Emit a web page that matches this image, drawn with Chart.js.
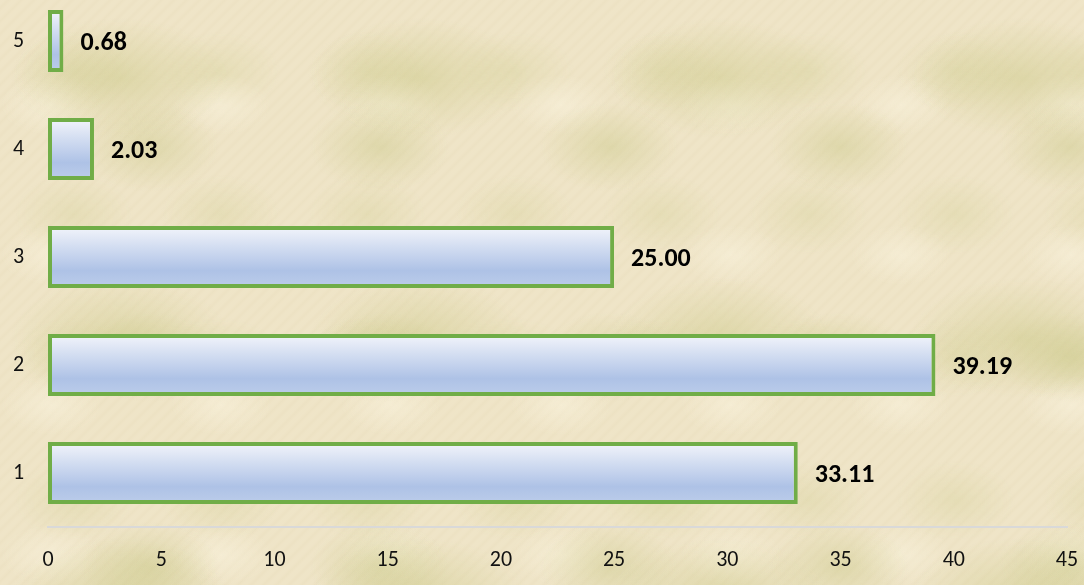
<!DOCTYPE html>
<html>
<head>
<meta charset="utf-8">
<script src="https://cdn.jsdelivr.net/npm/chart.js@4.4.1/dist/chart.umd.min.js"></script>
<style>
  html, body { margin: 0; padding: 0; }
  body {
    width: 1084px; height: 585px; overflow: hidden;
    background-color: #EEE3C5;
    background-image:
      radial-gradient(ellipse 110px 60px at 40% 30%, rgba(200,198,130,0.45), rgba(200,198,130,0) 100%),
      radial-gradient(ellipse 70px 45px at 65% 70%, rgba(195,195,125,0.38), rgba(195,195,125,0) 100%),
      radial-gradient(ellipse 50px 30px at 30% 70%, rgba(250,243,222,0.55), rgba(250,243,222,0) 100%),
      radial-gradient(ellipse 60px 40px at 50% 50%, rgba(205,203,140,0.28), rgba(205,203,140,0) 100%),
      repeating-linear-gradient(135deg, rgba(255,248,228,0.08) 0px, rgba(255,248,228,0.08) 3px, rgba(210,200,160,0.05) 6px, rgba(255,248,228,0.08) 9px);
    background-size: 300px 260px, 230px 210px, 170px 150px, 147px 143px, auto;
  }
  #wrap { position: absolute; left: 0; top: -13px; width: 1084px; height: 598px; }
</style>
</head>
<body>
<div id="wrap"><canvas id="c" width="1084" height="598"></canvas></div>
<script>
const categories = ['1', '2', '3', '4', '5'];
const values = [33.11, 39.19, 25.00, 2.03, 0.68];
const xTicks = [0, 5, 10, 15, 20, 25, 30, 35, 40, 45];

const FONT = 'Carlito, Calibri, Lato, "Open Sans", sans-serif';
const BAR_PCT = 0.574;

function barFill(ctx) {
  const chart = ctx.chart;
  const y = chart.scales.y;
  if (!chart.chartArea || !y || ctx.dataIndex === undefined) return '#C5D3EE';
  const c = y.getPixelForValue(ctx.dataIndex);
  const half = (y.height / categories.length) * BAR_PCT / 2;
  const g = chart.ctx.createLinearGradient(0, c - half, 0, c + half);
  g.addColorStop(0, '#F3F5FB');
  g.addColorStop(0.72, '#AEC2E6');
  g.addColorStop(1, '#BCCDEA');
  return g;
}

const labelPlugin = {
  id: 'valueLabels',
  afterDatasetsDraw(chart) {
    const ctx = chart.ctx;
    const meta = chart.getDatasetMeta(0);
    ctx.save();
    ctx.font = 'bold 26px ' + FONT;
    ctx.fillStyle = '#000';
    ctx.textAlign = 'left';
    ctx.textBaseline = 'middle';
    meta.data.forEach((bar, i) => {
      ctx.fillText(values[i].toFixed(2), bar.x + 17, bar.y + 2);
    });
    ctx.restore();
  }
};

new Chart(document.getElementById('c'), {
  type: 'bar',
  data: {
    labels: categories,
    datasets: [{
      data: values,
      backgroundColor: barFill,
      borderColor: '#70AD47',
      borderWidth: 4,
      borderSkipped: false,
      barPercentage: BAR_PCT,
      categoryPercentage: 1.0
    }]
  },
  options: {
    indexAxis: 'y',
    responsive: false,
    animation: false,
    devicePixelRatio: 1,
    layout: { padding: { top: 0, right: 0, left: 13, bottom: 0 } },
    plugins: { legend: { display: false }, tooltip: { enabled: false } },
    scales: {
      x: {
        min: 0, max: 45,
        afterBuildTicks(scale) { scale.ticks = xTicks.map(v => ({ value: v })); },
        afterFit(scale) { scale.height = 58; scale.paddingRight = 17; },
        grid: { display: false, drawTicks: false },
        border: { display: true, color: '#D9D9D9', width: 2 },
        ticks: { padding: 20, color: '#111', font: { family: FONT, size: 22 }, maxRotation: 0 }
      },
      y: {
        reverse: true,
        afterFit(scale) { scale.width = 35; scale.paddingTop = 0; scale.paddingBottom = 0; },
        grid: { display: false, drawTicks: false },
        border: { display: false },
        ticks: { padding: 0, crossAlign: 'far', color: '#111', font: { family: FONT, size: 22 } }
      }
    }
  },
  plugins: [labelPlugin]
});
</script>
</body>
</html>
